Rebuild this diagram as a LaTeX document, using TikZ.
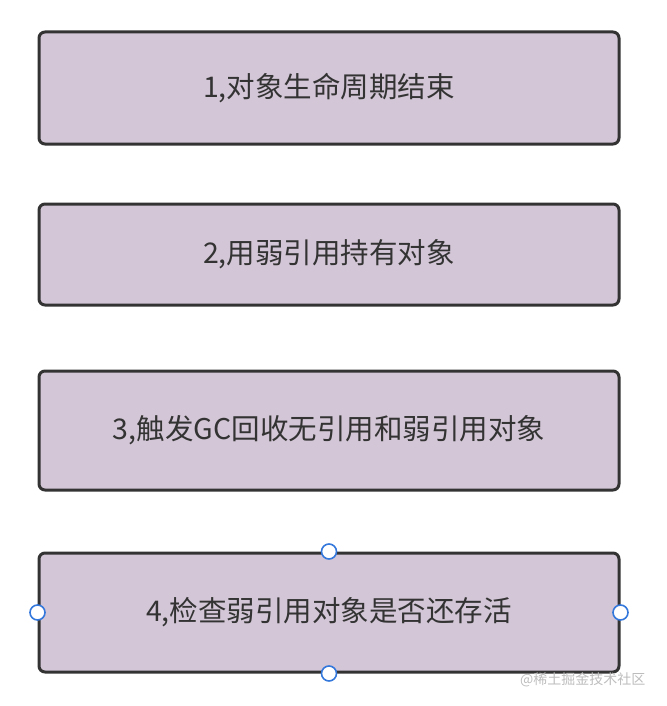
\documentclass[tikz,border=0pt]{standalone}
\usepackage{fontspec}
\setmainfont{Noto Sans CJK SC}
\definecolor{boxfill}{HTML}{D3C6D6}
\definecolor{boxline}{HTML}{333333}
\definecolor{handle}{HTML}{3478DC}
\definecolor{wm}{HTML}{BDBDBD}
\tikzset{
  stepbox/.style={draw=boxline, line width=3pt, fill=boxfill, rounded corners=6pt, minimum width=580pt, text=boxline, font=\fontsize{28.5}{32}\selectfont, inner sep=0pt},
  handledot/.style={circle, draw=handle, fill=white, line width=1.6pt, minimum size=15pt, inner sep=0pt}
}
\begin{document}
\begin{tikzpicture}[x=1pt,y=-1pt]
\useasboundingbox (0,0) rectangle (666,706);
\node[stepbox, minimum height=112pt] (b1) at (329,88) {1,对象生命周期结束};
\node[stepbox, minimum height=101pt] (b2) at (329,254.5) {2,用弱引用持有对象};
\node[stepbox, minimum height=119pt] (b3) at (329,430.5) {3,触发GC回收无引用和弱引用对象};
\node[stepbox, minimum height=119pt] (b4) at (329,612.5) {4,检查弱引用对象是否还存活};
\node[handledot] (h1) at (b4.north) {};
\node[handledot] (h2) at (b4.south) {};
\node[handledot] (h3) at (b4.west) {};
\node[handledot] (h4) at (b4.east) {};
\node[text=wm, font=\fontsize{14}{16}\selectfont, anchor=east] (w) at (649,680) {@稀土掘金技术社区};
\end{tikzpicture}
\end{document}
